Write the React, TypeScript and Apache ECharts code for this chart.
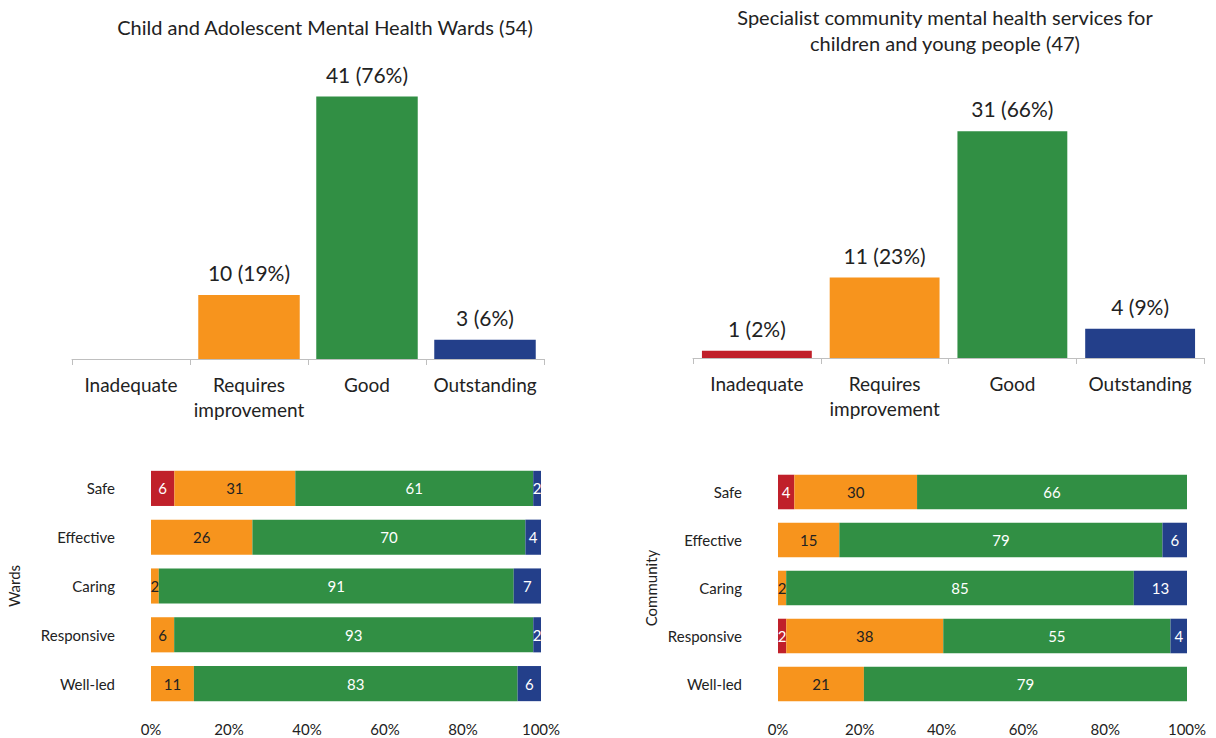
import React, { useEffect, useRef } from "react";
import * as echarts from "echarts";

const ratingCats = ["Inadequate", "Requires\nimprovement", "Good", "Outstanding"];
const wardsCounts = [0, 10, 41, 3];
const wardsTotal = 54;
const commCounts = [1, 11, 31, 4];
const commTotal = 47;

const domains = ["Safe", "Effective", "Caring", "Responsive", "Well-led"];
const wardsInadequate = [6, 0, 0, 0, 0];
const wardsRI = [31, 26, 2, 6, 11];
const wardsGood = [61, 70, 91, 93, 83];
const wardsOutstanding = [2, 4, 7, 2, 6];
const commInadequate = [4, 0, 0, 2, 0];
const commRI = [30, 15, 2, 38, 21];
const commGood = [66, 79, 85, 55, 79];
const commOutstanding = [0, 6, 13, 4, 0];

const pctTicks = [0, 20, 40, 60, 80, 100];

const COLORS = ["#C0202A", "#F7941D", "#318F44", "#233F8A"];
const FONT = "Lato";
const TXT = "#222";

export default function App() {
  const ref = useRef<HTMLDivElement>(null);
  useEffect(() => {
    if (!ref.current) return;
    const chart = echarts.init(ref.current, null, { renderer: "svg" });

    const colBars = (counts: number[], total: number, xi: number) => ({
      type: "bar",
      xAxisIndex: xi,
      yAxisIndex: xi,
      barCategoryGap: "14%",
      data: counts.map((v, i) => ({ value: v, itemStyle: { color: COLORS[i] } })),
      label: {
        show: true,
        position: "top",
        distance: 12,
        fontFamily: FONT,
        fontSize: 21,
        color: TXT,
        formatter: (p: any) => (p.value > 0 ? `${p.value} (${Math.round((p.value / total) * 100)}%)` : ""),
      },
    });

    const stackGroups = [
      [wardsInadequate, wardsRI, wardsGood, wardsOutstanding],
      [commInadequate, commRI, commGood, commOutstanding],
    ];
    const stackSeries: any[] = [];
    stackGroups.forEach((group, g) => {
      const totals = domains.map((_, r) => group.reduce((s, arr) => s + arr[r], 0));
      group.forEach((arr, k) => {
        stackSeries.push({
          type: "bar",
          xAxisIndex: 2 + g,
          yAxisIndex: 2 + g,
          stack: "s" + g,
          barCategoryGap: "28%",
          itemStyle: { color: COLORS[k] },
          data: arr.map((v, r) => (v / totals[r]) * 100),
          label: {
            show: true,
            position: "inside",
            fontFamily: FONT,
            fontSize: 15,
            color: k === 1 ? TXT : "#fff",
            formatter: (p: any) => (arr[p.dataIndex] > 0 ? String(arr[p.dataIndex]) : ""),
          },
        });
      });
    });

    const catAxisTop = (gi: number) => ({
      type: "category",
      gridIndex: gi,
      data: ratingCats,
      axisLine: { lineStyle: { color: "#BFBFBF", width: 1 } },
      axisTick: { show: true, length: 6, lineStyle: { color: "#BFBFBF" } },
      axisLabel: { fontFamily: FONT, fontSize: 19, color: TXT, margin: 13, lineHeight: 25, interval: 0 },
    });
    const valAxisTop = (gi: number, max: number) => ({
      type: "value",
      gridIndex: gi,
      min: 0,
      max,
      show: false,
      splitLine: { show: false },
    });
    const pctAxis = (gi: number) => ({
      type: "value",
      gridIndex: gi,
      min: pctTicks[0],
      max: pctTicks[pctTicks.length - 1],
      interval: pctTicks[1] - pctTicks[0],
      axisLine: { show: false },
      axisTick: { show: false },
      splitLine: { show: false },
      axisLabel: { fontFamily: FONT, fontSize: 15, color: TXT, margin: 13, formatter: "{value}%" },
    });
    const domAxis = (gi: number, name: string, gap: number) => ({
      type: "category",
      gridIndex: gi,
      inverse: true,
      data: domains,
      axisLine: { show: false },
      axisTick: { show: false },
      axisLabel: { fontFamily: FONT, fontSize: 15, color: TXT, margin: 36 },
      name,
      nameLocation: "middle",
      nameRotate: 90,
      nameGap: gap,
      nameTextStyle: { fontFamily: FONT, fontSize: 15, color: TXT },
    });

    chart.setOption({
      animation: false,
      backgroundColor: "#fff",
      title: [
        {
          text: "Child and Adolescent Mental Health Wards (54)",
          left: 320,
          top: 12,
          textAlign: "center",
          textStyle: { fontFamily: FONT, fontSize: 20, fontWeight: "normal", color: TXT },
        },
        {
          text: "Specialist community mental health services for\nchildren and young people (47)",
          left: 940,
          top: -1,
          textAlign: "center",
          textStyle: { fontFamily: FONT, fontSize: 20, fontWeight: "normal", color: TXT, lineHeight: 26 },
        },
      ],
      grid: [
        { left: 72, top: 71, width: 472, height: 288 },
        { left: 693, top: 102, width: 511, height: 256 },
        { left: 151, top: 464, width: 390, height: 244 },
        { left: 778, top: 468, width: 409, height: 240 },
      ],
      xAxis: [catAxisTop(0), catAxisTop(1), pctAxis(2), pctAxis(3)],
      yAxis: [valAxisTop(0, 45), valAxisTop(1, 35), domAxis(2, "Wards", 130), domAxis(3, "Community", 120)],
      series: [colBars(wardsCounts, wardsTotal, 0), colBars(commCounts, commTotal, 1), ...stackSeries],
    });
    return () => chart.dispose();
  }, []);
  return <div ref={ref} style={{ position: "fixed", left: 0, top: 0, width: 1216, height: 738 }} />;
}
